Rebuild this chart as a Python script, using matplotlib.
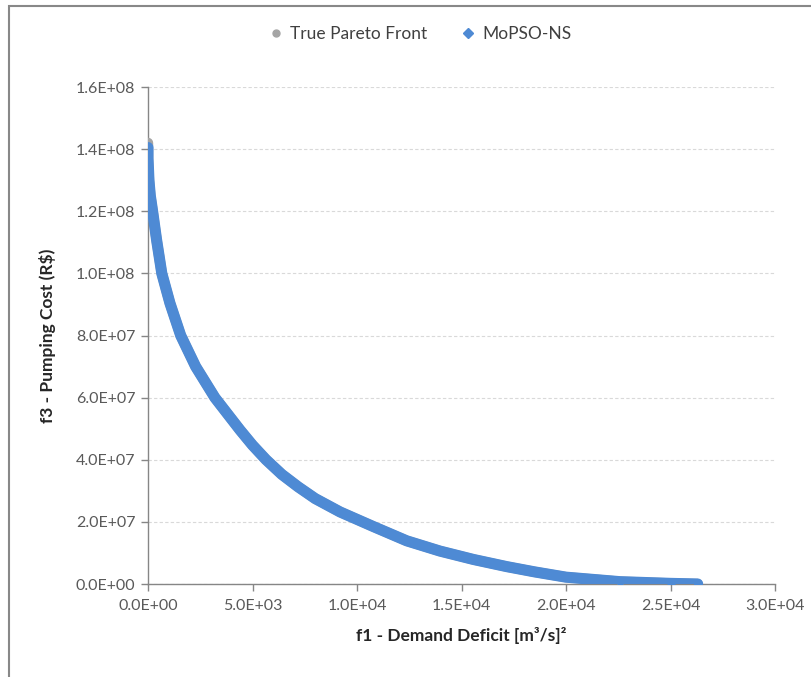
import matplotlib
matplotlib.use("Agg")
import matplotlib.pyplot as plt
from matplotlib.lines import Line2D
from matplotlib.patches import Rectangle
from matplotlib.ticker import FuncFormatter

plt.rcParams['font.family'] = ['Lato', 'DejaVu Sans']

# Demand deficit (f1) and pumping cost (f3) along the fronts
true_f1 = [0, 0, 0, 20, 45, 110, 220, 410, 660, 1050, 1565, 2280, 3200, 4400,
           5000, 5650, 6400, 7180, 8000, 9190, 10780, 12380, 13970, 15570,
           17160, 18500, 20000, 22580, 25000, 26300]
true_f3 = [1.42e8, 1.405e8, 1.37e8, 1.34e8, 1.30e8, 1.25e8, 1.20e8, 1.108e8,
           1.0e8, 9.04e7, 8.0e7, 7.0e7, 6.0e7, 4.96e7, 4.47e7, 4.0e7, 3.53e7,
           3.13e7, 2.75e7, 2.32e7, 1.85e7, 1.39e7, 1.06e7, 7.9e6, 5.6e6,
           3.9e6, 2.2e6, 7.5e5, 2e5, 0]

mopso_f1 = [0, 0, 20, 45, 110, 220, 410, 660, 1050, 1565, 2280, 3200, 4400,
            5000, 5650, 6400, 7180, 8000, 9190, 10780, 12380, 13970, 15570,
            17160, 18500, 20000, 22580, 25000, 26300]
mopso_f3 = [1.405e8, 1.37e8, 1.34e8, 1.30e8, 1.25e8, 1.20e8, 1.108e8, 1.0e8,
            9.04e7, 8.0e7, 7.0e7, 6.0e7, 4.96e7, 4.47e7, 4.0e7, 3.53e7,
            3.13e7, 2.75e7, 2.32e7, 1.85e7, 1.39e7, 1.06e7, 7.9e6, 5.6e6,
            3.9e6, 2.2e6, 7.5e5, 2e5, 0]

x_ticks = [0, 5000, 10000, 15000, 20000, 25000, 30000]
y_ticks = [0, 2e7, 4e7, 6e7, 8e7, 1.0e8, 1.2e8, 1.4e8, 1.6e8]

gray = '#A5A5A5'
blue = '#4E8AD4'
axis_col = '#868686'
text_col = '#595959'

W, H = 811, 677
fig = plt.figure(figsize=(W / 100, H / 100), dpi=100)
fig.patch.set_facecolor('white')

# chart-area border
fig.add_artist(Rectangle((9 / W, -0.05), 1.2, 1 - 6 / H + 0.05,
                         transform=fig.transFigure, fill=False,
                         edgecolor='#888888', linewidth=1.5))

ax = fig.add_axes([148 / W, 1 - 584 / H, (775 - 148) / W, (584 - 87) / H])

# true front underneath
ax.plot(true_f1, true_f3, color=gray, linewidth=7.5, solid_capstyle='round',
        solid_joinstyle='round', marker='o', markersize=4,
        markerfacecolor=gray, markeredgecolor=gray, zorder=3)
# MoPSO-NS front
ax.plot(mopso_f1, mopso_f3, color=blue, linewidth=8, solid_capstyle='round',
        solid_joinstyle='round', marker='D', markersize=4,
        markerfacecolor=blue, markeredgecolor=blue, zorder=4)

ax.set_xlim(0, 30000)
ax.set_ylim(0, 1.6e8)
ax.set_xticks(x_ticks)
ax.set_yticks(y_ticks)


def sci(v, _):
    return f"{v:.1E}"


ax.xaxis.set_major_formatter(FuncFormatter(sci))
ax.yaxis.set_major_formatter(FuncFormatter(sci))

for side in ('top', 'right'):
    ax.spines[side].set_visible(False)
for side in ('left', 'bottom'):
    ax.spines[side].set_color(axis_col)
    ax.spines[side].set_linewidth(1.0)

ax.tick_params(axis='both', direction='out', length=5, width=1.0,
               color=axis_col, labelcolor=text_col, labelsize=11.5)
ax.tick_params(axis='y', pad=4)
ax.tick_params(axis='x', pad=6)

ax.yaxis.grid(True, color='#D9D9D9', linestyle=(0, (3, 2)), linewidth=0.8)
ax.set_axisbelow(True)

ax.set_xlabel('f1 - Demand Deficit [m³/s]²', fontsize=12.5,
              fontweight='bold', color='#262626', labelpad=10)
ax.set_ylabel('f3 - Pumping Cost (R$)', fontsize=12.5, fontweight='bold',
              color='#262626', labelpad=14)

handles = [
    Line2D([], [], linestyle='none', marker='o', markersize=5,
           markerfacecolor=gray, markeredgecolor=gray, label='True Pareto Front'),
    Line2D([], [], linestyle='none', marker='D', markersize=5,
           markerfacecolor=blue, markeredgecolor=blue, label='MoPSO-NS'),
]
fig.legend(handles=handles, loc='center', bbox_to_anchor=(420 / W, 1 - 34 / H),
           ncol=2, frameon=False, fontsize=12.5, handlelength=0.8,
           handletextpad=0.4, columnspacing=2.0, labelcolor='#404040')

fig.savefig('out.png', dpi=100, facecolor='white')
